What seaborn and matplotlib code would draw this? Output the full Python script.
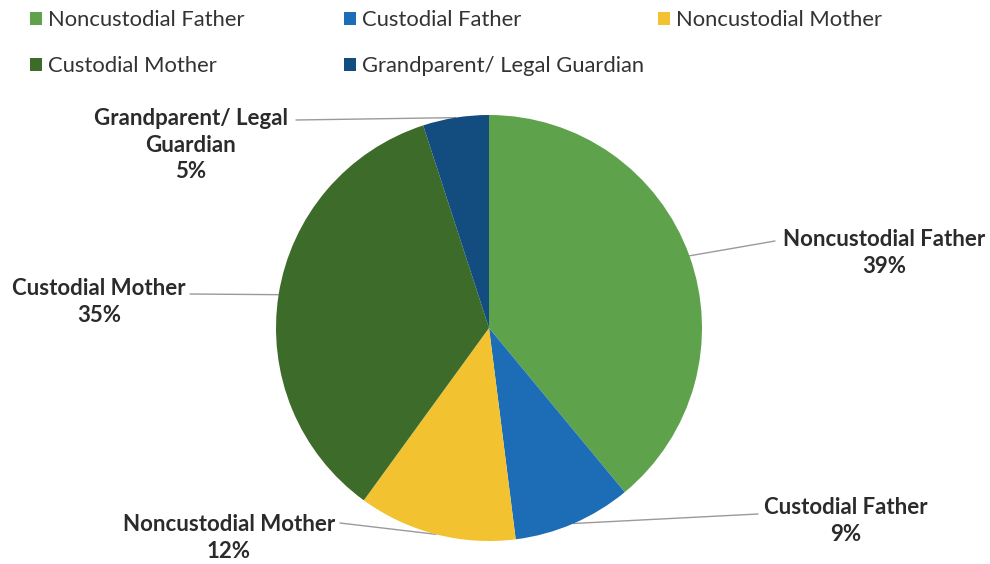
import matplotlib
matplotlib.use("Agg")
import matplotlib.pyplot as plt
from matplotlib.patches import Patch
import numpy as np
import seaborn as sns

sns.set_theme(style="white")
plt.rcParams['font.family'] = ['Lato', 'DejaVu Sans']

categories = ["Noncustodial Father", "Custodial Father", "Noncustodial Mother",
              "Custodial Mother", "Grandparent/ Legal Guardian"]
values = [39, 9, 12, 35, 5]
label_text = ["Noncustodial Father", "Custodial Father", "Noncustodial Mother",
              "Custodial Mother", "Grandparent/ Legal\nGuardian"]
colors = ["#5fa24c", "#1c6db5", "#f2c230", "#3d6b29", "#134d80"]

W, H = 990, 564
fig = plt.figure(figsize=(W / 100, H / 100), dpi=100)
ax = fig.add_axes([0, 0, 1, 1])
ax.set_xlim(0, W)
ax.set_ylim(0, H)
ax.set_aspect('equal')
ax.axis('off')

cx, cy, R = 489, H - 328, 213
wedges, _ = ax.pie(values, colors=colors, startangle=90, counterclock=False,
                   center=(cx, cy), radius=R, frame=True,
                   wedgeprops=dict(edgecolor='none', linewidth=0))
ax.set_xlim(0, W)
ax.set_ylim(0, H)
ax.axis('off')

# label layout (pixel positions, y measured from top)
text_pos = [(884, 253), (846, 521), (229, 538), (99, 302), (191, 145)]
line_end = [(775, 241), (758, 514), (340, 523), (190, 294), (296, 120)]

for w, v, lt, (tx, ty), (lx, ly) in zip(wedges, values, label_text, text_pos, line_end):
    ang = np.deg2rad((w.theta1 + w.theta2) / 2)
    px, py = cx + R * np.cos(ang), cy + R * np.sin(ang)
    ax.plot([px, lx], [py, H - ly], color="#9a9a9a", lw=1.0, zorder=0)
    ax.text(tx, H - ty, f"{lt}\n{v}%", ha='center', va='center', fontsize=16,
            fontweight='bold', color="#2b2b2b", linespacing=1.33)

# legend entries, row-major layout
leg_x = [30, 344, 658]
leg_y = [20, 66]
for i, (c, name) in enumerate(zip(colors, categories)):
    r, col = divmod(i, 3)
    lg = fig.legend(handles=[Patch(facecolor=c, edgecolor='none')], labels=[name],
                    loc='center left',
                    bbox_to_anchor=(leg_x[col] / W, 1 - leg_y[r] / H),
                    frameon=False, fontsize=15.8, handlelength=0.55, handleheight=0.55,
                    handletextpad=0.28, borderaxespad=0, borderpad=0,
                    labelcolor="#333333")

fig.savefig("out.png", dpi=100, facecolor='white')
